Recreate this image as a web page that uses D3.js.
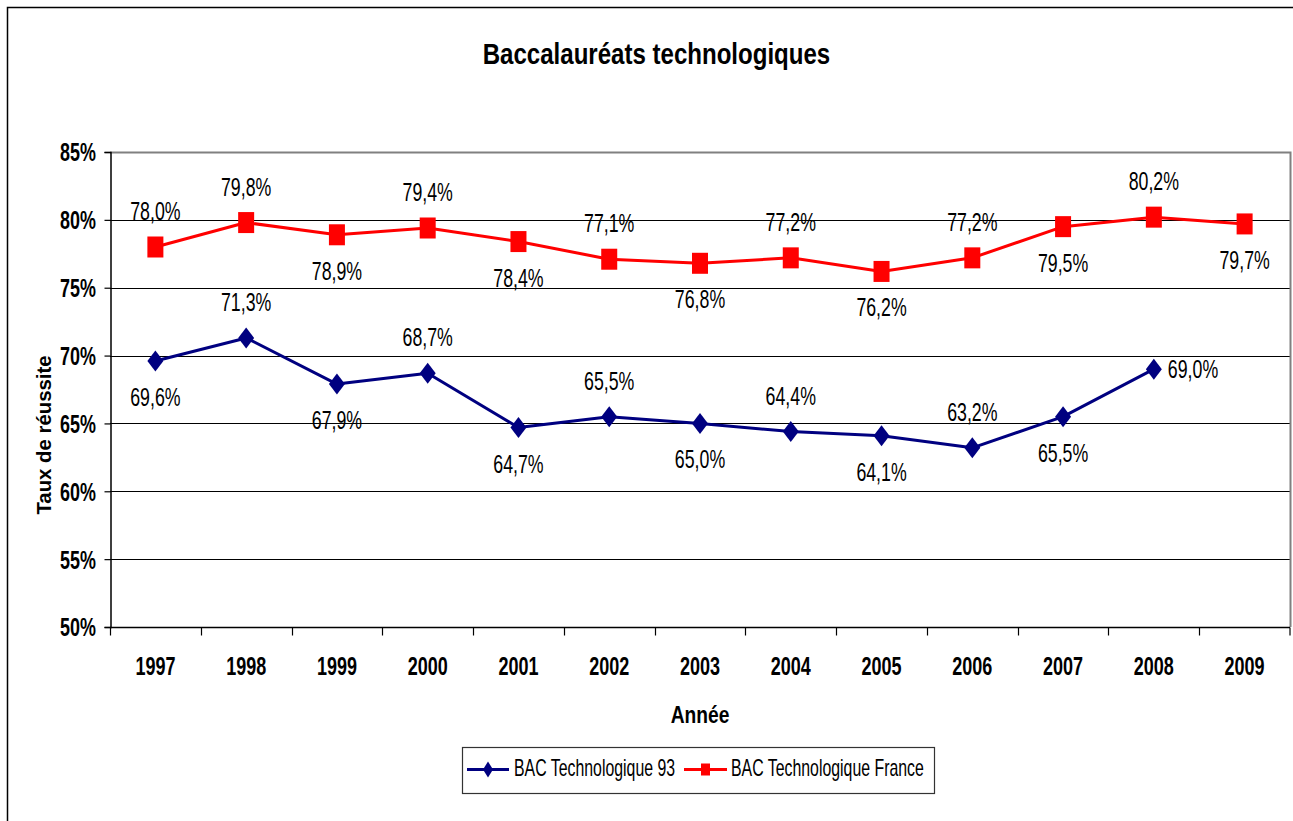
<!DOCTYPE html>
<html lang="fr">
<head>
<meta charset="utf-8">
<title>Baccalauréats technologiques</title>
<script src="https://cdn.jsdelivr.net/npm/d3@7"></script>
<style>
  html, body { margin: 0; padding: 0; background: #fff; }
  svg { display: block; }
  text { font-family: "Liberation Sans", Arial, sans-serif; fill: #000; }
</style>
</head>
<body>
<svg id="chart" width="1293" height="821"></svg>
<script>
// Taux de réussite au baccalauréat technologique (%)
const years = ["1997","1998","1999","2000","2001","2002","2003","2004","2005","2006","2007","2008","2009"];
const bac93 = [69.6, 71.3, 67.9, 68.7, 64.7, 65.5, 65.0, 64.4, 64.1, 63.2, 65.5, 69.0, null];
const bacFrance = [78.0, 79.8, 78.9, 79.4, 78.4, 77.1, 76.8, 77.2, 76.2, 77.2, 79.5, 80.2, 79.7];
// where each value label sits relative to its point
const side93 = ["below","above","below","above","below","above","below","above","below","above","below","right", null];
const sideFrance = ["above","above","below","above","below","above","below","above","below","above","below","above","below"];
const yTicks = [50, 55, 60, 65, 70, 75, 80, 85];
const seriesNames = ["BAC Technologique 93", "BAC Technologique France"];

const svg = d3.select("#chart");
const W = 1293, H = 821;
const plot = { left: 110, right: 1290, top: 152, bottom: 627 };

const fr = d3.formatLocale({ decimal: ",", thousands: " ", grouping: [3], currency: ["", " €"] });
const pct1 = v => fr.format(".1f")(v) + "%";

const x = d3.scaleBand().domain(years).range([plot.left, plot.right]).padding(0);
const xc = d => x(d) + x.bandwidth() / 2;
const y = d3.scaleLinear().domain([50, 85]).range([plot.bottom, plot.top]);

// condensed text helper: horizontal squeeze around the anchor point
function label(g, tx, ty, str, opts) {
  const o = Object.assign({ size: 25, k: 0.71, weight: "normal", anchor: "middle", rotate: 0 }, opts);
  const t = g.append("g")
    .attr("transform", `translate(${tx},${ty}) rotate(${o.rotate}) scale(${o.k},1)`)
    .append("text")
    .attr("text-anchor", o.anchor)
    .attr("font-size", o.size)
    .attr("font-weight", o.weight)
    .text(str);
  if (o.dy) t.attr("dy", o.dy);
  return t;
}

// outer chart frame
svg.append("rect")
  .attr("x", 7.5).attr("y", 7.5)
  .attr("width", W + 20).attr("height", H + 20)
  .attr("fill", "none").attr("stroke", "#000").attr("stroke-width", 1.5);

// title
label(svg, 656.5, 64, "Baccalauréats technologiques", { size: 29, k: 0.83, weight: "bold" });

// horizontal gridlines
svg.append("g")
  .selectAll("line")
  .data(yTicks.filter(v => v > 50 && v < 85))
  .join("line")
  .attr("x1", plot.left).attr("x2", plot.right)
  .attr("y1", d => Math.round(y(d)) + 0.5).attr("y2", d => Math.round(y(d)) + 0.5)
  .attr("stroke", "#000").attr("stroke-width", 1);

// plot border (top and right in grey)
svg.append("path")
  .attr("d", `M${plot.left},${Math.round(y(85)) + 0.5}H${plot.right + 0.5}V${plot.bottom}`)
  .attr("fill", "none").attr("stroke", "#808080").attr("stroke-width", 2);

// y axis
const yAxis = d3.axisLeft(y).tickValues(yTicks).tickSize(6).tickFormat("");
const gy = svg.append("g").attr("transform", `translate(${plot.left + 0.5},0)`).call(yAxis);
gy.select(".domain").attr("stroke", "#000").attr("stroke-width", 1.5);
gy.selectAll(".tick line").attr("stroke", "#000").attr("stroke-width", 1.2);
yTicks.forEach(v => {
  label(svg, 96, y(v), v + "%", { size: 26, k: 0.69, weight: "bold", anchor: "end", dy: "0.36em" });
});

// x axis: ticks between categories
const gx = svg.append("g").attr("transform", `translate(0,${plot.bottom + 0.5})`);
gx.append("line")
  .attr("x1", plot.left).attr("x2", plot.right)
  .attr("stroke", "#000").attr("stroke-width", 1.5);
gx.selectAll("line.tk")
  .data(years.concat(["end"]))
  .join("line")
  .attr("class", "tk")
  .attr("x1", d => d === "end" ? plot.right : Math.round(x(d)) + 0.5)
  .attr("x2", d => d === "end" ? plot.right : Math.round(x(d)) + 0.5)
  .attr("y1", 0).attr("y2", 8)
  .attr("stroke", "#000").attr("stroke-width", 1.2);
years.forEach(yr => {
  label(svg, xc(yr), 675, yr, { size: 25, k: 0.72, weight: "bold" });
});

// axis titles
label(svg, 700, 723, "Année", { size: 24, k: 0.8, weight: "bold" });
label(svg, 51, 435, "Taux de réussite", { size: 21, k: 0.97, weight: "bold", rotate: -90 });

// series
const series = [
  { name: seriesNames[0], values: bac93, sides: side93, color: "#000080", shape: "diamond" },
  { name: seriesNames[1], values: bacFrance, sides: sideFrance, color: "#FF0000", shape: "square" }
];

function marker(g, shape, cx, cy, color, w, h) {
  if (shape === "diamond") {
    g.append("path")
      .attr("d", `M${cx},${cy - h / 2}L${cx + w / 2},${cy}L${cx},${cy + h / 2}L${cx - w / 2},${cy}Z`)
      .attr("fill", color);
  } else {
    g.append("rect")
      .attr("x", cx - w / 2).attr("y", cy - h / 2)
      .attr("width", w).attr("height", h)
      .attr("fill", color);
  }
}

const line = d3.line()
  .defined(d => d.v != null)
  .x(d => xc(d.year))
  .y(d => y(d.v));

series.forEach(s => {
  const pts = years.map((yr, i) => ({ year: yr, v: s.values[i], side: s.sides[i] }));
  const g = svg.append("g");
  g.append("path")
    .datum(pts)
    .attr("d", line)
    .attr("fill", "none")
    .attr("stroke", s.color)
    .attr("stroke-width", 3)
    .attr("stroke-linejoin", "round");
  pts.filter(p => p.v != null).forEach(p => {
    marker(g, s.shape, xc(p.year), y(p.v), s.color, 16, 21);
  });
  pts.filter(p => p.v != null).forEach(p => {
    const cx = xc(p.year), cy = y(p.v);
    if (p.side === "above") label(g, cx, cy - 27, pct1(p.v));
    else if (p.side === "below") label(g, cx, cy + 45, pct1(p.v));
    else label(g, cx + 14, cy + 9, pct1(p.v), { anchor: "start" });
  });
});

// legend
const lg = svg.append("g");
lg.append("rect")
  .attr("x", 462.5).attr("y", 747.5).attr("width", 472).attr("height", 46)
  .attr("fill", "#fff").attr("stroke", "#333").attr("stroke-width", 1.2);
const legendItems = [
  { s: series[0], x0: 467, x1: 509, tx: 514 },
  { s: series[1], x0: 684, x1: 727, tx: 731 }
];
legendItems.forEach(it => {
  const ly = 769.5;
  lg.append("line")
    .attr("x1", it.x0).attr("x2", it.x1).attr("y1", ly).attr("y2", ly)
    .attr("stroke", it.s.color).attr("stroke-width", 3);
  if (it.s.shape === "diamond") marker(lg, "diamond", (it.x0 + it.x1) / 2, ly, it.s.color, 10, 16);
  else marker(lg, "square", (it.x0 + it.x1) / 2, ly, it.s.color, 9, 12);
  label(lg, it.tx, 776, it.s.name, { size: 23, k: 0.69, anchor: "start" });
});
</script>
</body>
</html>
